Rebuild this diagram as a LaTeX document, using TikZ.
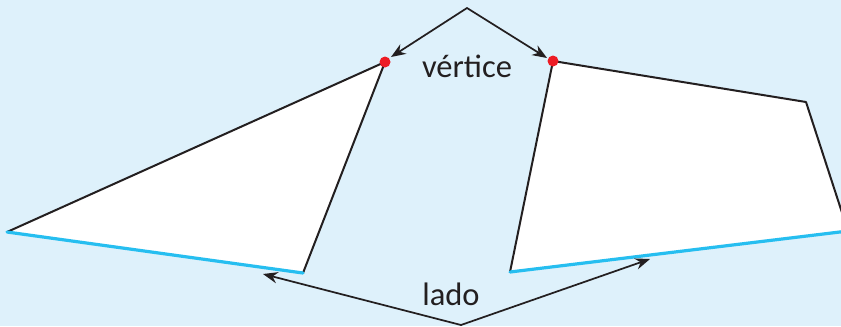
\documentclass[tikz,border=0pt]{standalone}
\usepackage{fontspec}
\setmainfont{Carlito}
\usepackage{tikz}
\usetikzlibrary{arrows.meta}

\definecolor{skybg}{RGB}{222,241,251}
\definecolor{sidecol}{RGB}{38,190,240}
\definecolor{inkcol}{RGB}{35,31,32}
\definecolor{dotcol}{RGB}{237,28,36}

\tikzset{
  edge/.style={inkcol, line width=1.5pt, line join=round},
  side/.style={sidecol, line width=2.4pt},
  pointer/.style={inkcol, line width=1.3pt, -{Stealth[length=11pt,width=8.5pt]}},
  label/.style={font=\fontsize{24.4}{28}\selectfont, text=inkcol, inner sep=0pt},
}

\begin{document}
\begin{tikzpicture}[x=0.75pt, y=-0.75pt, line cap=round]
  \useasboundingbox (0,0) rectangle (841,326);
  \fill[skybg] (0,0) rectangle (841,326);
  \clip (0,0) rectangle (841,326);

  % ---------------- triangle (left) ----------------
  \coordinate (tA) at (7,232);
  \coordinate (tB) at (385,62);
  \coordinate (tC) at (303,273);
  \fill[white] (tA) -- (tB) -- (tC) -- cycle;
  \draw[edge] (tA) -- (tB) -- (tC);
  \draw[side] (tA) -- (tC);

  % ---------------- quadrilateral (right) ----------------
  \coordinate (qA) at (553,61);
  \coordinate (qB) at (806,102);
  \coordinate (qC) at (848,231);
  \coordinate (qD) at (510,272);
  \fill[white] (qA) -- (qB) -- (qC) -- (qD) -- cycle;
  \draw[edge] (qD) -- (qA) -- (qB) -- (qC);
  \draw[side] (qD) -- (qC);

  % ---------------- vertices ----------------
  \fill[dotcol] (tB) circle (5.5);
  \fill[dotcol] (qA) circle (5.5);

  % ---------------- labels and pointers ----------------
  \node[label, anchor=base] (vertice) at (467,77) {vértice};
  \node[label, anchor=base] (lado) at (451,305) {lado};

  \coordinate (vtop) at (467,8);
  \coordinate (vleft) at (391,57);
  \coordinate (vright) at (547,58);
  \draw[pointer] (vtop) -- (vleft);
  \draw[pointer] (vtop) -- (vright);

  \coordinate (lbot) at (461,325);
  \coordinate (lleft) at (263,274);
  \coordinate (lright) at (650,259);
  \draw[pointer] (lbot) -- (lleft);
  \draw[pointer] (lbot) -- (lright);
\end{tikzpicture}
\end{document}
